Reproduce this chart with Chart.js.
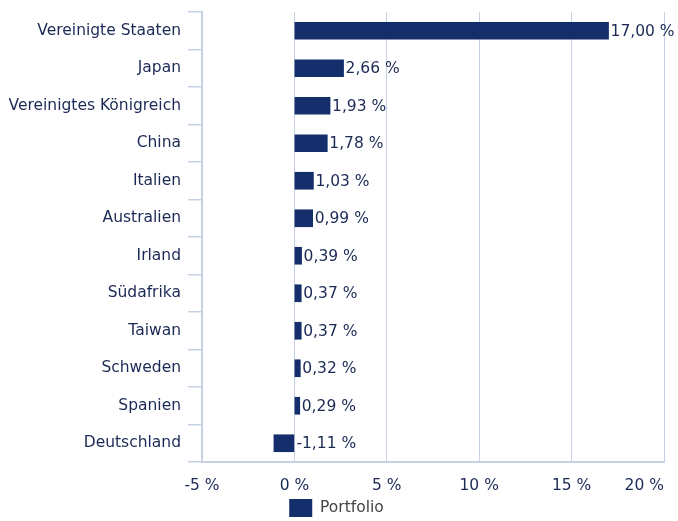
<!DOCTYPE html>
<html>
<head>
<meta charset="utf-8">
<script src="https://cdn.jsdelivr.net/npm/chart.js@4/dist/chart.umd.min.js"></script>
<style>
  html, body { margin: 0; padding: 0; background: #fff; }
  #wrap { width: 678px; height: 521px; }
</style>
</head>
<body>
<div id="wrap"><canvas id="c" width="678" height="521"></canvas></div>
<script>
const countries = [
    'Vereinigte Staaten', 'Japan', 'Vereinigtes Königreich', 'China', 'Italien',
    'Australien', 'Irland', 'Südafrika', 'Taiwan', 'Schweden', 'Spanien', 'Deutschland',
]
const portfolio = [17.0, 2.66, 1.93, 1.78, 1.03, 0.99, 0.39, 0.37, 0.37, 0.32, 0.29, -1.11]
const xTicks = [-5, 0, 5, 10, 15, 20]

const navy = '#132e6a'
const textColor = '#1b2a55'
const gridColor = '#c6d2e4'
const fontFamily = '"DejaVu Sans", Verdana, sans-serif'
const fontSize = 15.5
const font = fontSize + 'px ' + fontFamily

const fmt = v => v.toFixed(2).replace('.', ',') + ' %'

// value next to each bar end (right of zero for negatives),
// plus the last x tick label pulled inside the canvas like the original
const valueLabels = {
    id: 'valueLabels',
    afterDraw(chart) {
        const { ctx } = chart
        const xScale = chart.scales.x
        const zero = xScale.getPixelForValue(0)
        ctx.save()
        ctx.font = font
        ctx.fillStyle = textColor
        ctx.textBaseline = 'middle'
        ctx.textAlign = 'left'
        chart.getDatasetMeta(0).data.forEach((bar, i) => {
            const x = Math.max(bar.x, zero) + 2
            ctx.fillText(fmt(portfolio[i]), x, bar.y + 1)
        })
        const last = xTicks[xTicks.length - 1]
        ctx.textAlign = 'right'
        ctx.fillText(last + ' %', xScale.getPixelForValue(last), chart.chartArea.bottom + 24)
        ctx.restore()
    },
}

new Chart(document.getElementById('c'), {
    type: 'bar',
    data: {
        labels: countries,
        datasets: [{
            label: 'Portfolio',
            data: portfolio,
            backgroundColor: navy,
            borderWidth: 0,
            barThickness: 17,
        }],
    },
    plugins: [valueLabels],
    options: {
        indexAxis: 'y',
        responsive: false,
        animation: false,
        layout: { padding: { top: 12, right: 14, left: 9, bottom: -6 } },
        scales: {
            x: {
                min: -5,
                max: 20,
                afterBuildTicks: axis => {
                    axis.ticks = xTicks.map(v => ({ value: v }))
                },
                afterFit: axis => {
                    axis.paddingRight = 0
                    axis.height = 33
                },
                grid: { color: gridColor, lineWidth: 1, drawTicks: false },
                border: { color: gridColor, width: 2 },
                ticks: {
                    color: textColor,
                    font: { family: fontFamily, size: fontSize },
                    padding: 15,
                    callback: v => (v === xTicks[xTicks.length - 1] ? '' : v + ' %'),
                },
            },
            y: {
                afterFit: axis => {
                    axis.width = 193
                    axis.paddingTop = 0
                    axis.paddingBottom = 0
                },
                grid: {
                    color: gridColor,
                    drawOnChartArea: false,
                    tickLength: 14,
                    offset: true,
                    lineWidth: 1.5,
                },
                border: { color: gridColor, width: 2 },
                ticks: {
                    color: textColor,
                    font: { family: fontFamily, size: fontSize },
                    padding: 7,
                },
            },
        },
        plugins: {
            legend: {
                position: 'bottom',
                labels: {
                    boxWidth: 23,
                    boxHeight: 18,
                    color: '#444',
                    font: { family: fontFamily, size: fontSize },
                    padding: 4,
                },
            },
            tooltip: { enabled: false },
        },
    },
})
</script>
</body>
</html>
